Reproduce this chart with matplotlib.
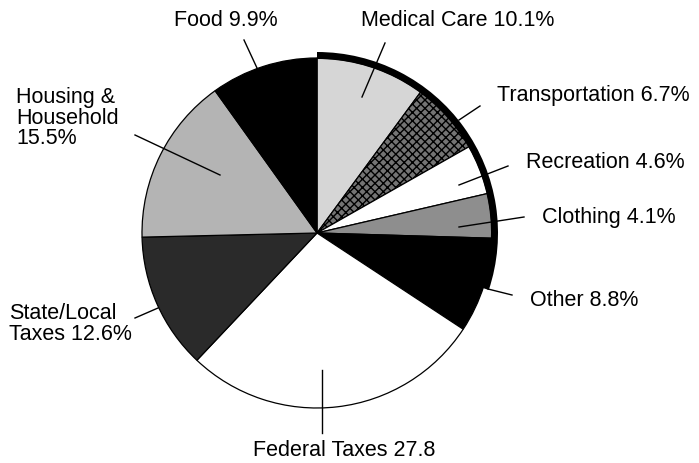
import matplotlib.pyplot as plt
from matplotlib.patches import Wedge

plt.rcParams["font.family"] = ["Liberation Sans", "DejaVu Sans"]

categories = ["Medical Care", "Transportation", "Recreation", "Clothing", "Other",
              "Federal Taxes", "State/Local Taxes", "Housing & Household", "Food"]
shares = [10.1, 6.7, 4.6, 4.1, 8.8, 27.8, 12.6, 15.5, 9.9]
label_texts = ["Medical Care 10.1%", "Transportation 6.7%", "Recreation 4.6%",
               "Clothing 4.1%", "Other 8.8%", "Federal Taxes 27.8",
               "State/Local\nTaxes 12.6%", "Housing &\nHousehold\n15.5%", "Food 9.9%"]

fills = ["#d6d6d6", "#747474", "white", "#8e8e8e", "black",
         "white", "#2a2a2a", "#b4b4b4", "black"]
hatches = ["", "xxxx", "", "", "", "", "", "", ""]

W, H = 699, 463
fig = plt.figure(figsize=(W / 100, H / 100), dpi=100)
ax = fig.add_axes([0, 0, 1, 1])

cx, cy, r = 317, H - 233, 175

wedges, _ = ax.pie(shares, startangle=90, counterclock=False, center=(cx, cy),
                   radius=r, colors=fills, frame=True,
                   wedgeprops=dict(edgecolor="black", linewidth=0.9))
for w, h in zip(wedges, hatches):
    if h:
        w.set_hatch(h)
ax.set_xlim(0, W)
ax.set_ylim(0, H)
ax.set_aspect("equal")
ax.axis("off")

# dark rim along the right side of the pie
rim_end = 90 - 360 * sum(shares[:5]) / sum(shares)
ax.add_patch(Wedge((cx, cy), r + 6, rim_end + 15, 90, width=7,
                   facecolor="black", edgecolor="none"))

# label layout: text anchor (px), ha, leader start, leader end (px)
layout = [
    ((458, 21), "center", (385, 43), (362, 97)),
    ((497, 96), "left", (480, 106), (459, 120)),
    ((526, 163), "left", (508, 166), (459, 185)),
    ((542, 218), "left", (524, 217), (459, 227)),
    ((530, 300), "left", (512, 295), (488, 289)),
    ((344, 451), "center", (322, 433), (322, 370)),
    ((9, 324), "left", (135, 318), (158, 308)),
    ((16, 118), "left", (135, 135), (220, 175)),
    ((226, 20), "center", (244, 40), (257, 68)),
]

for txt, (pos, ha, p0, p1) in zip(label_texts, layout):
    ax.text(pos[0], H - pos[1], txt, ha=ha, va="center", fontsize=15.5,
            linespacing=1.0, color="black")
    ax.plot([p0[0], p1[0]], [H - p0[1], H - p1[1]], color="black", lw=1)

fig.savefig("out.png", dpi=100)
